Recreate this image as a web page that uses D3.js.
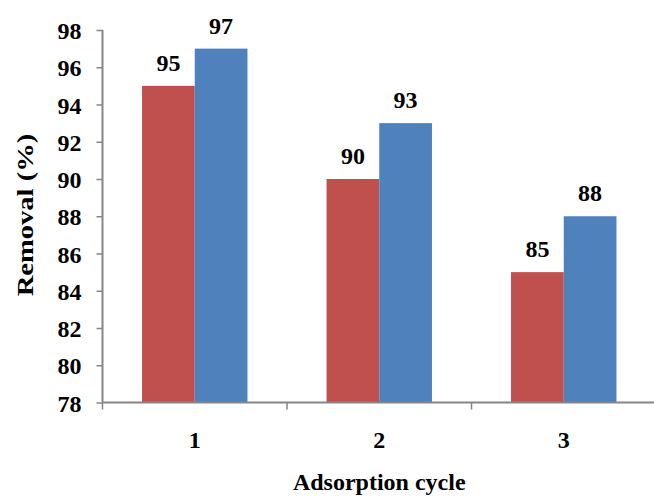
<!DOCTYPE html>
<html><head><meta charset="utf-8">
<script src="https://cdn.jsdelivr.net/npm/d3@7"></script>
<style>body{margin:0;background:#fff}svg{display:block}text{font-family:"Liberation Serif","Times New Roman",serif;font-weight:bold;fill:#000}</style>
</head><body><div id="chart"></div>
<script>
const categories = ["1","2","3"];
const seriesNames = ["A","B"];
const seriesA = [95, 90, 85];
const seriesB = [97, 93, 88];
const yTicks = [78,80,82,84,86,88,90,92,94,96,98];
const colors = ["#C0504D","#4F81BD"];

const W = 654, H = 498;
const mLeft = 102.5, mRight = 656, mTop = 30, mBottom = 402.5;
const fs = 24;

const svg = d3.select("#chart").append("svg").attr("width", W).attr("height", H);
const x = d3.scaleBand().domain(categories).range([mLeft, mRight]).padding(0);
const xs = d3.scaleBand().domain(seriesNames).range([0, x.bandwidth()]).paddingInner(0).paddingOuter(0.75);
const y = d3.scaleLinear().domain([78, 98]).range([mBottom, mTop]);

const data = categories.map((c, i) => ({c, vals: [seriesA[i], seriesB[i]]}));

const g = svg.selectAll("g.grp").data(data).join("g").attr("class","grp").attr("transform", d => `translate(${x(d.c)},0)`);
g.selectAll("rect").data(d => d.vals.map((v, k) => ({v, k}))).join("rect")
  .attr("x", d => xs(seriesNames[d.k])).attr("width", xs.bandwidth())
  .attr("y", d => y(d.v)).attr("height", d => y(78) - y(d.v))
  .attr("fill", d => colors[d.k]);
g.selectAll("text.lbl").data(d => d.vals.map((v, k) => ({v, k}))).join("text").attr("class","lbl")
  .attr("text-anchor","middle").attr("font-size", fs)
  .attr("x", d => xs(seriesNames[d.k]) + xs.bandwidth()/2)
  .attr("y", d => y(d.v) - 15)
  .text(d => d.v);

// Y axis
const axisColor = "#868686";
const yAxis = svg.append("g").attr("transform", `translate(${mLeft},0)`)
  .call(d3.axisLeft(y).tickValues(yTicks).tickSize(6).tickPadding(0).tickFormat(d3.format("d")));
yAxis.attr("font-family", null).attr("font-size", null);
yAxis.select(".domain").attr("stroke", axisColor).attr("stroke-width", 2).attr("d", `M0,${mTop}V${mBottom}`);
yAxis.selectAll(".tick line").attr("stroke", axisColor).attr("stroke-width", 1.5);
yAxis.selectAll(".tick text").attr("font-size", fs)
  .attr("x", -21).attr("dy", null).attr("y", 8.5)
  .attr("text-anchor","end");

// X axis
const xAxis = svg.append("g").attr("transform", `translate(0,${mBottom})`);
xAxis.append("path").attr("d", `M${mLeft},0H${mRight}`).attr("stroke", axisColor).attr("stroke-width", 2).attr("fill","none");
const bounds = [mLeft].concat(categories.map(c => x(c) + x.bandwidth()));
xAxis.selectAll("line.tk").data(bounds).join("line").attr("class","tk")
  .attr("x1", d => d).attr("x2", d => d).attr("y1", 0).attr("y2", 7)
  .attr("stroke", axisColor).attr("stroke-width", 1.5);
xAxis.selectAll("text.xl").data(categories).join("text").attr("class","xl")
  .attr("text-anchor","middle").attr("font-size", fs)
  .attr("x", d => x(d) + x.bandwidth()/2).attr("y", 45)
  .text(d => d);

// Titles
svg.append("text").attr("text-anchor","middle").attr("font-size", fs)
  .attr("x", (mLeft+mRight)/2).attr("y", 490).text("Adsorption cycle");
svg.append("text").attr("text-anchor","middle").attr("font-size", fs)
  .attr("transform", `translate(33,215) rotate(-90) scale(1.19,1)`).text("Removal (%)");
</script></body></html>
